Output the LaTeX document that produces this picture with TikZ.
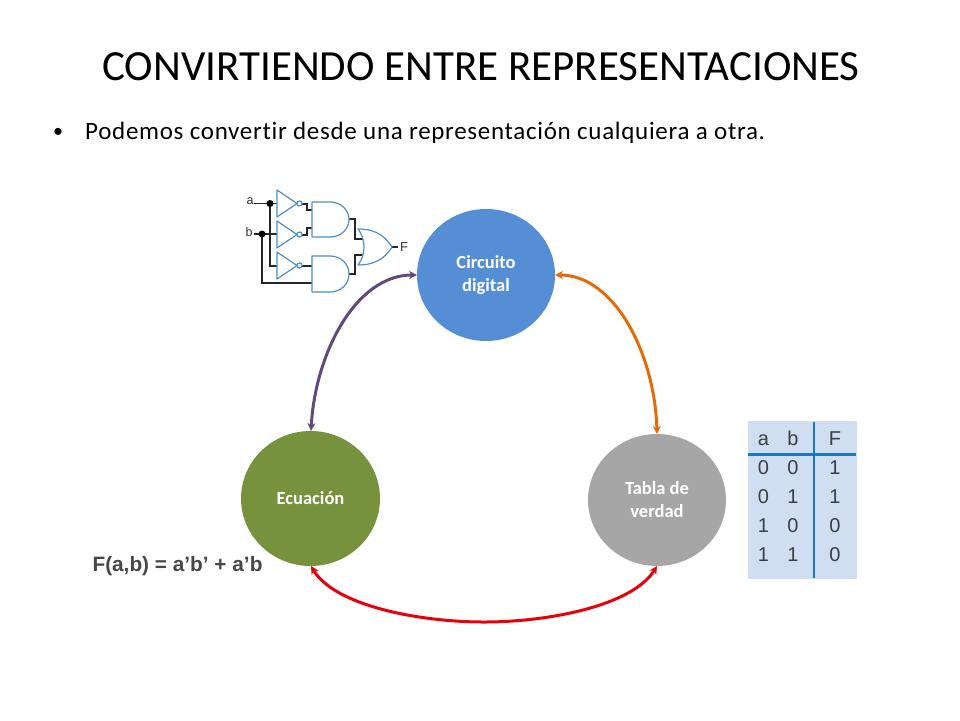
\documentclass[tikz,border=0pt]{standalone}
\usepackage{fontspec}
\setmainfont[Ligatures=NoCommon]{Carlito}
\newfontfamily\bodyf[Ligatures=NoCommon,LetterSpace=2.8]{Carlito}
\newfontfamily\arialf{Liberation Sans}
\usetikzlibrary{arrows.meta,shapes.geometric}
\definecolor{cblue}{HTML}{558ED5}
\definecolor{cgreen}{HTML}{76923C}
\definecolor{cgray}{HTML}{A6A6A6}
\definecolor{cpurple}{HTML}{604A7B}
\definecolor{corange}{HTML}{E36C09}
\definecolor{cred}{HTML}{E8000B}
\definecolor{gateblue}{HTML}{4F8FC4}
\definecolor{tabbg}{HTML}{D0DEF2}
\definecolor{tabline}{HTML}{1F78BE}
\definecolor{tabtxt}{HTML}{3A3F45}
\tikzset{
  circ/.style={ellipse,draw=none,inner sep=0pt,text=white,align=center,font=\fontsize{18.5}{23}\selectfont\bfseries},
  link/.style={line width=3pt,{Stealth[length=8pt,width=8pt]}-{Stealth[length=8pt,width=8pt]}},
  gate/.style={draw=gateblue,line width=1.2pt,fill=white,line join=round},
  wire/.style={draw=black!85,line width=1.5pt},
  dotn/.style={circle,fill=black,inner sep=0pt,minimum size=7pt},
  glab/.style={font=\arialf\fontsize{12.5}{14}\selectfont,text=black!80,inner sep=0pt},
  tabt/.style={font=\arialf\fontsize{20}{22}\selectfont,text=tabtxt,inner sep=0pt,anchor=base},
}
\begin{document}
\begin{tikzpicture}[x=1pt,y=-1pt]
\useasboundingbox (0,0) rectangle (960,720);
\fill[white] (0,0) rectangle (960,720);
\node[font=\fontsize{43}{50}\selectfont,inner sep=0pt] (title) at (481,67) {CONVIRTIENDO ENTRE REPRESENTACIONES};
\node[font=\fontsize{20}{24}\selectfont,inner sep=0pt] (bul) at (58,133) {•};
\node[font=\bodyf\fontsize{25}{30}\selectfont,inner sep=0pt,anchor=west] (body) at (85,133) {Podemos convertir desde una representación cualquiera a otra.};

% circles
\node[circ,fill=cblue,minimum width=138pt,minimum height=132pt] (cd) at (486,275) {Circuito\\digital};
\node[circ,fill=cgreen,minimum width=139pt,minimum height=135pt] (ec) at (310.5,498.5) {Ecuación};
\node[circ,fill=cgray,minimum width=138pt,minimum height=132pt] (tv) at (657,500) {Tabla de\\verdad};
\coordinate (cdL) at (417,275);
\coordinate (cdR) at (555,275);
\coordinate (ecT) at (311,431);
\coordinate (ecB) at (311,566);
\coordinate (tvT) at (657,434);
\coordinate (tvB) at (657,566);
\draw[link,cpurple] (cdL) .. controls (355,275) and (315,355) .. (ecT);
\draw[link,corange] (cdR) .. controls (615,275) and (655,355) .. (tvT);
\draw[link,cred] (ecB) .. controls (335,606) and (420,622) .. (484,622) .. controls (548,622) and (632,606) .. (tvB);

% circuit
\coordinate (a) at (270,203.5);
\coordinate (b) at (262,234);
\node[glab] (la) at (250,201.5) {a};
\node[glab] (lb) at (249,232.5) {b};
\draw[wire] (254,203.5) -- (a);
\draw[wire] (254,234) -- (b);
\draw[wire] (a) -- (277,203.5);
\draw[wire] (b) -- (277,234);
\draw[wire] (a) -- (270,266) -- (277,266);
\draw[wire] (b) -- (262,283) -- (312,283);
\draw[wire] (302,204) -- (307,204) -- (307,210) -- (312,210);
\draw[wire] (302,235) -- (307,235) -- (307,228) -- (312,228);
\draw[wire] (302,266) -- (312,266);
\draw[wire] (349,219) -- (355,219) -- (355,239) -- (364,239);
\draw[wire] (349,274) -- (355,274) -- (355,255) -- (364,255);
\draw[wire] (392,247) -- (398,247);
\node[dotn] (da) at (a) {};
\node[dotn] (db) at (b) {};
\foreach \y in {203.5,234.5,265.5}{
  \draw[gate] (277,\y-13.5) -- (297,\y) -- (277,\y+13.5) -- cycle;
  \draw[gate] (299.5,\y) circle (2.5);
}
\draw[gate] (312,202) -- (330,202) .. controls (341,202) and (349,210) .. (349,219.5) .. controls (349,229) and (341,237) .. (330,237) -- (312,237) -- cycle;
\draw[gate] (312,256) -- (330,256) .. controls (341,256) and (349,264) .. (349,274) .. controls (349,284) and (341,292) .. (330,292) -- (312,292) -- cycle;
\draw[gate] (358,229) .. controls (378,229) and (386,238) .. (392,247) .. controls (386,256) and (378,265) .. (358,265) .. controls (366,255) and (366,239) .. (358,229) -- cycle;
\node[glab,font=\arialf\fontsize{13}{14}\selectfont] (lf) at (404,247) {F};

% equation
\node[font=\arialf\bfseries\fontsize{20.8}{24}\selectfont,text=black!72,inner sep=0pt] (eq) at (177.5,566) {F(a,b) = a’b’ + a’b};

% table
\node[fill=tabbg,minimum width=109pt,minimum height=158pt,inner sep=0pt] (tab) at (802,500) {};
\draw[tabline,line width=2.2pt] (748,454.5) -- (856,454.5);
\draw[tabline,line width=2.2pt] (814,422) -- (814,578);
\foreach \x/\t/\y in {763.5/a/445,793/b/445,835/F/445,
  763.5/0/474,793/0/474,835/1/474,
  763.5/0/503,793/1/503,835/1/503,
  763.5/1/532,793/0/532,835/0/532,
  763.5/1/561,793/1/561,835/0/561}{
  \node[tabt] at (\x,\y) {\t};
}
\end{tikzpicture}
\end{document}
